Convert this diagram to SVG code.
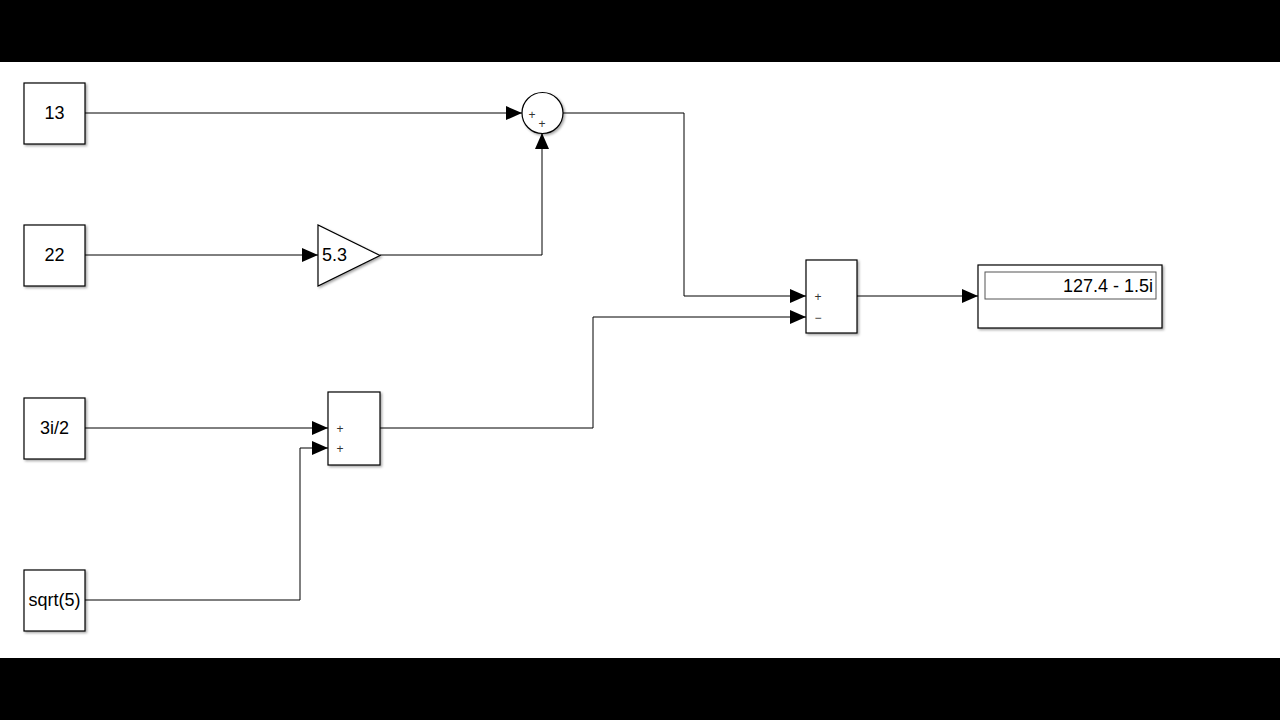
<svg xmlns="http://www.w3.org/2000/svg" width="1280" height="720" viewBox="0 0 1280 720">
<defs>
<style>
.blk{fill:#fff;stroke:#000;stroke-width:1.2;filter:url(#sh)}
.t{font-family:"Liberation Sans",Arial,sans-serif;font-size:18px;fill:#000}
.s{font-family:"Liberation Sans",Arial,sans-serif;font-size:12px;fill:#333}
.w{fill:none;stroke:#000;stroke-width:1}
</style>
<filter id="sh" x="-10%" y="-10%" width="130%" height="130%"><feDropShadow dx="1.5" dy="1.5" stdDeviation="1" flood-color="#000" flood-opacity="0.35"/></filter>
<marker id="a" markerWidth="16" markerHeight="14" refX="16" refY="7" orient="auto" markerUnits="userSpaceOnUse"><path d="M0,0 L16,7 L0,14 Z" fill="#000"/></marker>
</defs>
<rect width="1280" height="720" fill="#fff"/>
<rect width="1280" height="62" fill="#000"/>
<rect y="658" width="1280" height="62" fill="#000"/>
<g id="connectors">
<path class="w" marker-end="url(#a)" d="M85,113 H522"/>
<path class="w" marker-end="url(#a)" d="M85,255 H318"/>
<path class="w" marker-end="url(#a)" d="M380,255 H542 V133"/>
<path class="w" marker-end="url(#a)" d="M563,113 H684 V296 H806"/>
<path class="w" marker-end="url(#a)" d="M380,428 H593 V317 H806"/>
<path class="w" marker-end="url(#a)" d="M85,428 H328"/>
<path class="w" marker-end="url(#a)" d="M85,600 H300 V448 H328"/>
<path class="w" marker-end="url(#a)" d="M857,296 H978"/>
</g>
<g id="c13"><rect class="blk" x="24" y="83" width="61" height="61"/><text class="t" x="54.5" y="119" text-anchor="middle">13</text></g>
<g id="c22"><rect class="blk" x="24" y="225" width="61" height="61"/><text class="t" x="54.5" y="261" text-anchor="middle">22</text></g>
<g id="c3i2"><rect class="blk" x="24" y="398" width="61" height="61"/><text class="t" x="54.5" y="434" text-anchor="middle">3i/2</text></g>
<g id="csqrt5"><rect class="blk" x="24" y="570" width="61" height="61"/><text class="t" x="54.5" y="606" text-anchor="middle">sqrt(5)</text></g>
<g id="sumcircle"><circle class="blk" cx="542.5" cy="113" r="20.5"/><text class="s" x="532" y="119" text-anchor="middle">+</text><text class="s" x="542" y="128" text-anchor="middle">+</text></g>
<g id="gain"><path class="blk" d="M318,225 L318,286 L380,255.5 Z"/><text class="t" x="322" y="261">5.3</text></g>
<g id="sum1"><rect class="blk" x="328" y="392" width="52" height="73"/><text class="s" x="340" y="433" text-anchor="middle">+</text><text class="s" x="340" y="453" text-anchor="middle">+</text></g>
<g id="sum2"><rect class="blk" x="806" y="260" width="51" height="73"/><text class="s" x="818" y="301" text-anchor="middle">+</text><text class="s" x="818" y="322" text-anchor="middle">−</text></g>
<g id="display"><rect class="blk" x="978" y="265" width="184" height="63"/><rect x="985" y="272" width="171" height="27" fill="#fff" stroke="#555" stroke-width="1"/><text class="t" x="1153" y="292" text-anchor="end">127.4 - 1.5i</text></g>
</svg>
